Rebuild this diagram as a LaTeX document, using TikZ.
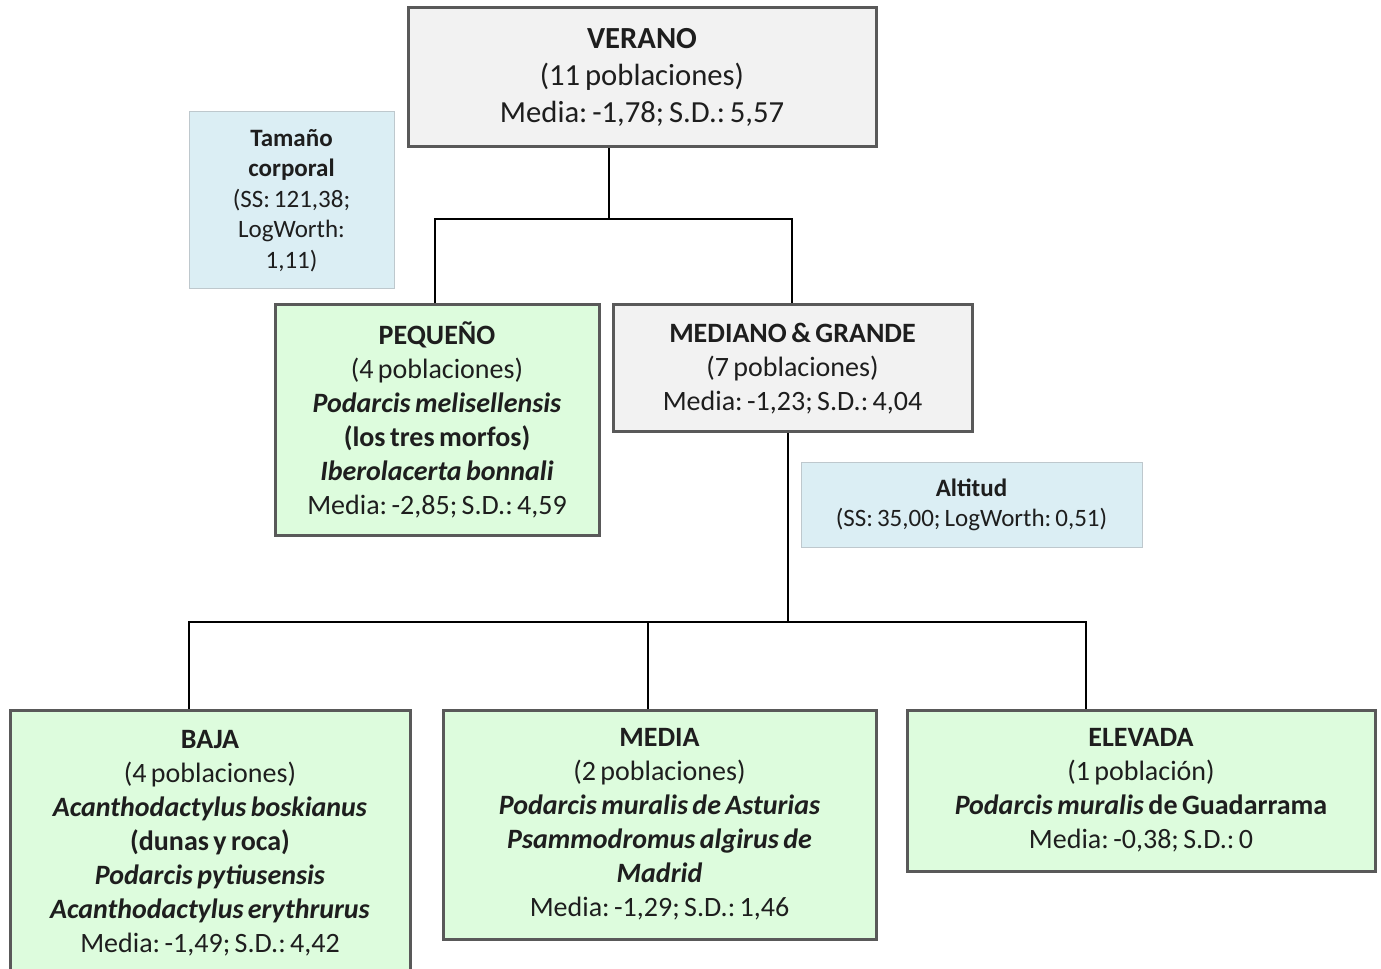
\documentclass[tikz,border=0pt]{standalone}
\usepackage{fontspec}
\setmainfont{Carlito}[WordSpace=0.7]
\frenchspacing
\definecolor{grayfill}{RGB}{242,242,242}
\definecolor{greenfill}{RGB}{221,252,221}
\definecolor{bluefill}{RGB}{219,238,244}
\definecolor{bord}{RGB}{89,89,89}
\definecolor{blueb}{RGB}{190,200,205}
\definecolor{txt}{RGB}{30,30,30}
\tikzset{
  base/.style={rectangle, align=center, inner sep=0pt, text=txt},
  graybox/.style={base, fill=grayfill, draw=bord, line width=2.25pt},
  greenbox/.style={base, fill=greenfill, draw=bord, line width=2.25pt},
  bluebox/.style={base, fill=bluefill, draw=blueb, line width=0.75pt},
  conn/.style={line width=1.5pt, black},
  fbig/.style={font=\fontsize{23}{27.75}\selectfont\frenchspacing},
  fmid/.style={font=\fontsize{21}{25.5}\selectfont\frenchspacing},
  fsmall/.style={font=\fontsize{18.75}{22.9}\selectfont\frenchspacing},
}
\newcommand{\bi}[1]{\textbf{\textit{#1}}}
\begin{document}
\begin{tikzpicture}[x=0.75pt,y=-0.75pt]
\useasboundingbox (0,0) rectangle (1381,969);
\coordinate (j1) at (609,219);
\coordinate (a1) at (435,219);
\coordinate (a2) at (792,219);
\coordinate (j2) at (788,622);
\coordinate (b1) at (189,622);
\coordinate (b2) at (648,622);
\coordinate (b3) at (1086,622);

\node[graybox, fbig, minimum width=468*0.75pt, minimum height=139*0.75pt] (ver) at (642,77.5)
  {\textbf{VERANO}\\(11 poblaciones)\\Media: -1,78; S.D.: 5,57};
\node[bluebox, fsmall, minimum width=205*0.75pt, minimum height=177*0.75pt] (tam) at (291.5,200.5)
  {\textbf{Tamaño}\\\textbf{corporal}\\(SS: 121,38;\\LogWorth:\\1,11)};
\node[greenbox, fmid, minimum width=324*0.75pt, minimum height=230*0.75pt] (peq) at (437,420)
  {\textbf{PEQUEÑO}\\(4 poblaciones)\\\bi{Podarcis melisellensis}\\\textbf{(los tres morfos)}\\\bi{Iberolacerta bonnali}\\Media: -2,85; S.D.: 4,59};
\node[graybox, fmid, minimum width=359*0.75pt, minimum height=127*0.75pt] (mg) at (792.5,368.5)
  {\textbf{MEDIANO \& GRANDE}\\(7 poblaciones)\\Media: -1,23; S.D.: 4,04};
\node[bluebox, fsmall, minimum width=341*0.75pt, minimum height=84*0.75pt] (alt) at (971.5,505)
  {\textbf{Altitud}\\(SS: 35,00; LogWorth: 0,51)};
\node[greenbox, fmid, minimum width=400*0.75pt, minimum height=266*0.75pt] (baja) at (210,843)
  {\textbf{BAJA}\\(4 poblaciones)\\\bi{Acanthodactylus boskianus}\\\textbf{(dunas y roca)}\\\bi{Podarcis pytiusensis}\\\bi{Acanthodactylus erythrurus}\\Media: -1,49; S.D.: 4,42};
\node[greenbox, fmid, minimum width=433*0.75pt, minimum height=229*0.75pt] (media) at (659.5,824.5)
  {\textbf{MEDIA}\\(2 poblaciones)\\\bi{Podarcis muralis de Asturias}\\\bi{Psammodromus algirus de}\\\bi{Madrid}\\Media: -1,29; S.D.: 1,46};
\node[greenbox, fmid, minimum width=468*0.75pt, minimum height=161*0.75pt] (elev) at (1141,790.5)
  {\textbf{ELEVADA}\\(1 población)\\\bi{Podarcis muralis} \textbf{de Guadarrama}\\Media: -0,38; S.D.: 0};

\draw[conn] (ver.south -| j1) -- (j1);
\draw[conn] (a1 |- peq.north) -- (a1) -- (a2) -- (a2 |- mg.north);
\draw[conn] (mg.south -| j2) -- (j2);
\draw[conn] (b1 |- baja.north) -- (b1) -- (b3) -- (b3 |- elev.north);
\draw[conn] (b2) -- (b2 |- media.north);
\end{tikzpicture}
\end{document}
